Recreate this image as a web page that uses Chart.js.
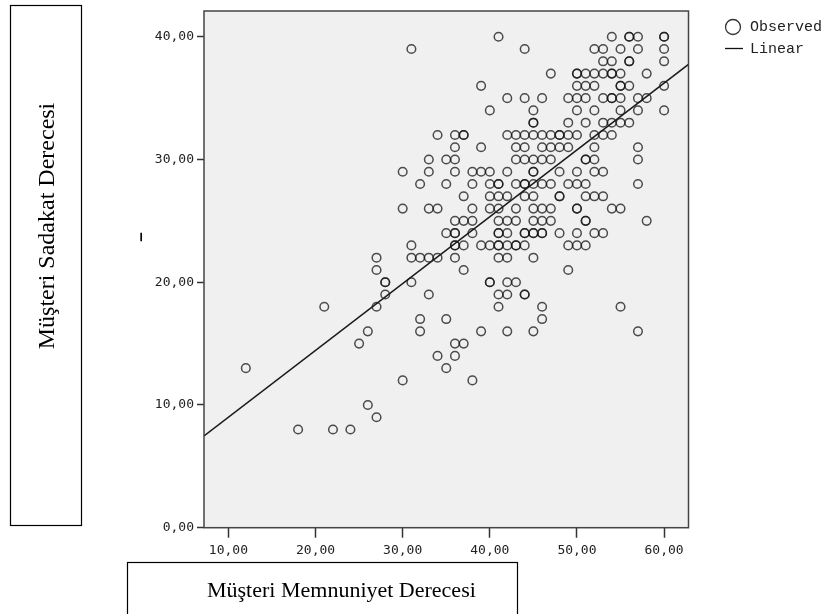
<!DOCTYPE html>
<html>
<head>
<meta charset="utf-8">
<script src="https://cdn.jsdelivr.net/npm/chart.js@4.4.1/dist/chart.umd.min.js"></script>
<style>
  body { margin: 0; background: #fff; }
  #wrap { width: 824px; height: 614px; }
</style>
</head>
<body>
<div id="wrap"><canvas id="myChart" width="824" height="614"></canvas></div>
<script>
// Observed points (x = memnuniyet, y = sadakat)
const obsX = [
  41, 54, 56, 56, 57, 60, 60,
  31, 44, 52, 53, 55, 57, 60,
  53, 54, 56, 56, 60,
  47, 50, 50, 51, 52, 53, 54, 54, 55, 58,
  39, 50, 51, 52, 55, 55, 56, 60,
  42, 44, 46, 49, 50, 51, 53, 54, 54, 55, 57, 58,
  40, 45, 50, 52, 55, 57, 60,
  45, 45, 49, 51, 53, 54, 55, 56,
  34, 36, 37, 37, 42, 43, 44, 45, 46, 47, 48, 48, 49, 50, 52, 53, 54,
  36, 39, 43, 44, 46, 47, 48, 49, 52, 57,
  33, 35, 36, 43, 44, 45, 46, 47, 51, 51, 52, 57,
  30, 33, 36, 38, 39, 40, 42, 45, 45, 48, 50, 52, 53,
  32, 35, 38, 40, 41, 41, 43, 44, 44, 45, 46, 47, 49, 50, 51, 57,
  37, 40, 41, 42, 44, 45, 48, 48, 51, 52, 53,
  30, 33, 34, 38, 40, 41, 43, 45, 46, 47, 50, 50, 54, 55,
  36, 37, 38, 41, 42, 43, 45, 46, 47, 51, 51, 58,
  35, 36, 36, 38, 41, 41, 42, 44, 44, 45, 45, 46, 46, 48, 50, 52, 53,
  31, 36, 36, 37, 39, 40, 41, 41, 42, 43, 43, 44, 49, 50, 51,
  27, 31, 32, 33, 34, 36, 41, 42, 45,
  27, 37, 49,
  28, 28, 31, 40, 40, 42, 43,
  28, 33, 41, 42, 44, 44,
  21, 27, 41, 46, 55,
  32, 35, 46,
  26, 32, 39, 42, 45, 57,
  25, 36, 37,
  34, 36,
  12, 35,
  30, 38,
  26,
  27,
  18, 22, 24
];
const obsY = [
  40, 40, 40, 40, 40, 40, 40,
  39, 39, 39, 39, 39, 39, 39,
  38, 38, 38, 38, 38,
  37, 37, 37, 37, 37, 37, 37, 37, 37, 37,
  36, 36, 36, 36, 36, 36, 36, 36,
  35, 35, 35, 35, 35, 35, 35, 35, 35, 35, 35, 35,
  34, 34, 34, 34, 34, 34, 34,
  33, 33, 33, 33, 33, 33, 33, 33,
  32, 32, 32, 32, 32, 32, 32, 32, 32, 32, 32, 32, 32, 32, 32, 32, 32,
  31, 31, 31, 31, 31, 31, 31, 31, 31, 31,
  30, 30, 30, 30, 30, 30, 30, 30, 30, 30, 30, 30,
  29, 29, 29, 29, 29, 29, 29, 29, 29, 29, 29, 29, 29,
  28, 28, 28, 28, 28, 28, 28, 28, 28, 28, 28, 28, 28, 28, 28, 28,
  27, 27, 27, 27, 27, 27, 27, 27, 27, 27, 27,
  26, 26, 26, 26, 26, 26, 26, 26, 26, 26, 26, 26, 26, 26,
  25, 25, 25, 25, 25, 25, 25, 25, 25, 25, 25, 25,
  24, 24, 24, 24, 24, 24, 24, 24, 24, 24, 24, 24, 24, 24, 24, 24, 24,
  23, 23, 23, 23, 23, 23, 23, 23, 23, 23, 23, 23, 23, 23, 23,
  22, 22, 22, 22, 22, 22, 22, 22, 22,
  21, 21, 21,
  20, 20, 20, 20, 20, 20, 20,
  19, 19, 19, 19, 19, 19,
  18, 18, 18, 18, 18,
  17, 17, 17,
  16, 16, 16, 16, 16, 16,
  15, 15, 15,
  14, 14,
  13, 13,
  12, 12,
  10,
  9,
  8, 8, 8
];

// Linear fit line, ends read at the plot edges
const fitX = [7.2, 62.8];
const fitY = [7.48, 37.76];

const xTicks = [10, 20, 30, 40, 50, 60];
const yTicks = [0, 10, 20, 30, 40];

const xTitle = 'Müşteri Memnuniyet Derecesi';
const yTitle = 'Müşteri Sadakat Derecesi';

if (obsX.length !== obsY.length) console.warn('obs length mismatch', obsX.length, obsY.length);

const points = obsX.map((x, i) => ({ x: x, y: obsY[i] }));
const fitPoints = fitX.map((x, i) => ({ x: x, y: fitY[i] }));

const fmt = v => Number(v).toFixed(2).replace('.', ',');

// gray plot background + frame
const plotBox = {
  id: 'plotBox',
  beforeDraw(chart) {
    const { ctx, chartArea: a } = chart;
    ctx.save();
    ctx.fillStyle = '#fff';
    ctx.fillRect(0, 0, chart.width, chart.height);
    ctx.fillStyle = '#f0f0f0';
    ctx.fillRect(a.left, a.top, a.right - a.left, a.bottom - a.top);
    ctx.restore();
  },
  afterDraw(chart) {
    const { ctx, chartArea: a } = chart;
    ctx.save();
    ctx.strokeStyle = '#444';
    ctx.lineWidth = 1.5;
    ctx.strokeRect(a.left, a.top, a.right - a.left, a.bottom - a.top);
    ctx.restore();
  }
};

// axis titles in boxes + legend, like the SPSS output
const extras = {
  id: 'extras',
  afterDraw(chart) {
    const ctx = chart.ctx;
    ctx.save();
    ctx.strokeStyle = '#000';
    ctx.lineWidth = 1.2;
    ctx.strokeRect(10.5, 5.5, 71, 520);
    ctx.strokeRect(127.5, 562.5, 390, 60);

    ctx.fillStyle = '#000';
    ctx.font = '24px "Liberation Serif"';
    ctx.textAlign = 'center';
    ctx.textBaseline = 'middle';
    ctx.save();
    ctx.translate(48, 226);
    ctx.rotate(-Math.PI / 2);
    ctx.fillText(yTitle, 0, 0);
    ctx.restore();
    ctx.font = '22px "Liberation Serif"';
    ctx.textAlign = 'left';
    ctx.textBaseline = 'alphabetic';
    ctx.fillText(xTitle, 207, 597);

    // stray dash left of the axis
    ctx.save();
    ctx.translate(141, 237);
    ctx.rotate(-Math.PI / 2);
    ctx.font = 'bold 17px "Liberation Sans"';
    ctx.textAlign = 'center';
    ctx.textBaseline = 'middle';
    ctx.fillText('–', 0, 0);
    ctx.restore();

    // legend
    ctx.strokeStyle = '#333';
    ctx.lineWidth = 1.3;
    ctx.beginPath();
    ctx.ellipse(733, 27, 7.5, 7.5, 0, 0, Math.PI * 2);
    ctx.stroke();
    ctx.beginPath();
    ctx.moveTo(725, 48.5);
    ctx.lineTo(743, 48.5);
    ctx.strokeStyle = '#111';
    ctx.stroke();
    ctx.fillStyle = '#222';
    ctx.font = '15px "Liberation Mono"';
    ctx.textBaseline = 'middle';
    ctx.fillText('Observed', 750, 27);
    ctx.fillText('Linear', 750, 49);
    ctx.restore();
  }
};

const data = {
  datasets: [
    {
      label: 'Linear',
      data: fitPoints,
      showLine: true,
      borderColor: '#1a1a1a',
      borderWidth: 1.6,
      pointRadius: 0,
      fill: false
    },
    {
      label: 'Observed',
      data: points,
      pointStyle: 'circle',
      pointRadius: 4.3,
      pointBorderWidth: 1.5,
      borderColor: 'rgba(20, 20, 20, 0.75)',
      backgroundColor: 'rgba(0, 0, 0, 0)',
      showLine: false
    }
  ]
};

const tickFont = { family: '"DejaVu Sans Mono"', size: 13 };

const config = {
  type: 'scatter',
  data: data,
  options: {
    responsive: false,
    animation: false,
    layout: { padding: { left: 0, right: 135.5, top: 11, bottom: 0 } },
    plugins: { legend: { display: false }, tooltip: { enabled: false } },
    scales: {
      x: {
        type: 'linear',
        min: 7.2,
        max: 62.8,
        afterBuildTicks: s => { s.ticks = xTicks.map(v => ({ value: v })); },
        afterFit: s => { s.height = 86.3; },
        ticks: { callback: fmt, font: tickFont, color: '#222', padding: 5, maxRotation: 0, autoSkip: false },
        grid: { drawOnChartArea: false, drawTicks: true, tickLength: 10, tickColor: '#333', tickWidth: 1.5 },
        border: { display: false }
      },
      y: {
        type: 'linear',
        min: 0,
        max: 42.1,
        afterBuildTicks: s => { s.ticks = yTicks.map(v => ({ value: v })); },
        afterFit: s => { s.width = 204; },
        ticks: { callback: fmt, font: tickFont, color: '#222', padding: 3, autoSkip: false },
        grid: { drawOnChartArea: false, drawTicks: true, tickLength: 7, tickColor: '#333', tickWidth: 1.5 },
        border: { display: false }
      }
    }
  },
  plugins: [plotBox, extras]
};

const myChart = new Chart(document.getElementById('myChart'), config);
</script>
</body>
</html>
